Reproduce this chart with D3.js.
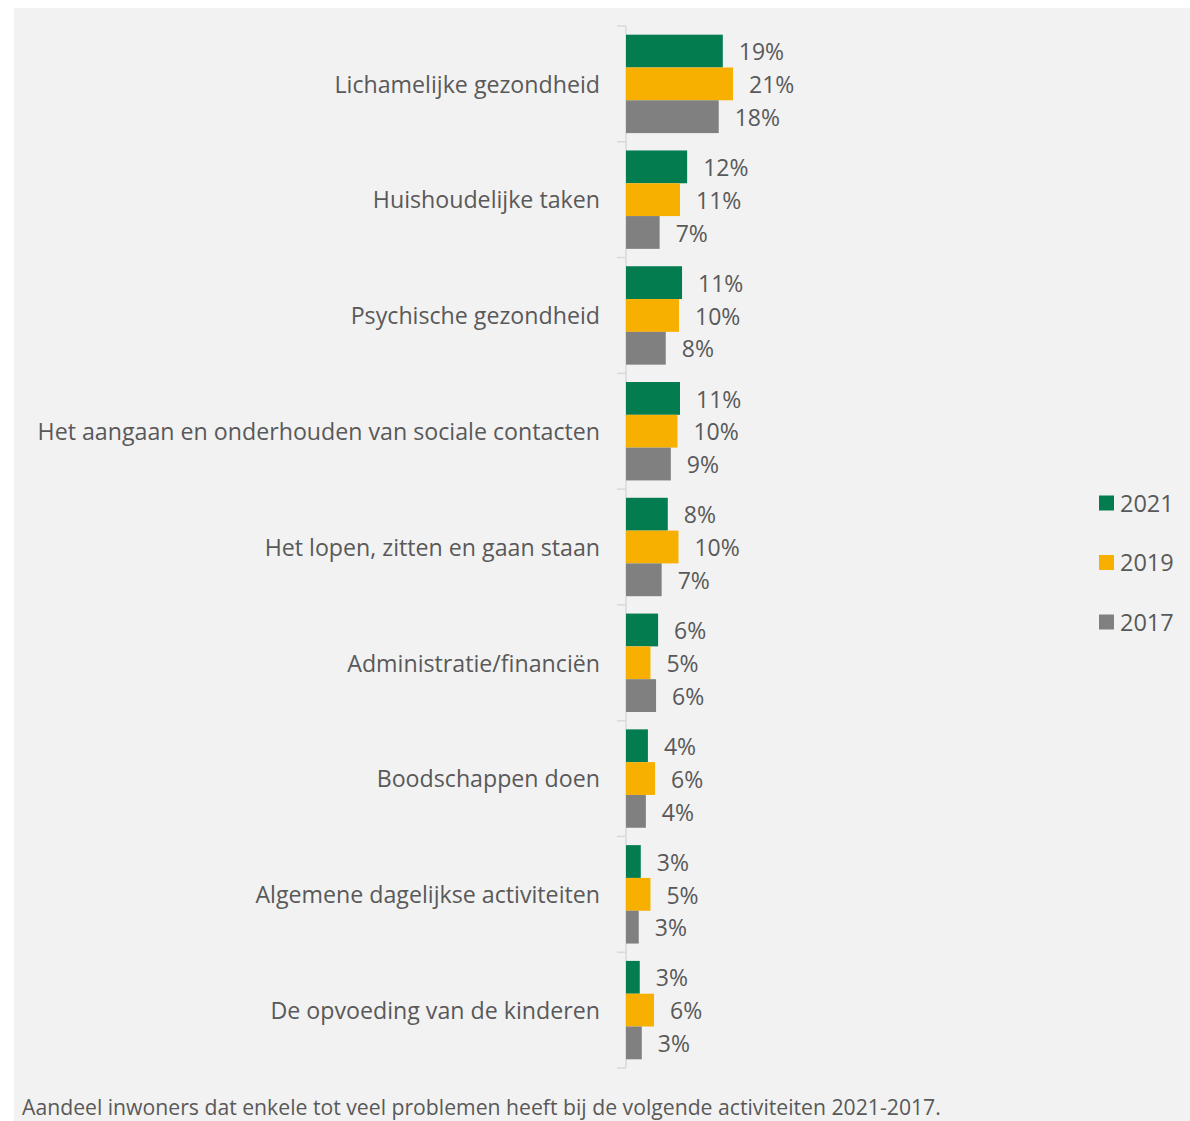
<!DOCTYPE html>
<html>
<head>
<meta charset="utf-8">
<script src="https://cdn.jsdelivr.net/npm/d3@7"></script>
<style>
  body { margin: 0; background: #ffffff; }
  svg text { font-family: "Open Sans", "Noto Sans", sans-serif; fill: #595959; }
</style>
</head>
<body>
<div id="chart"></div>
<script>
// categories, top to bottom
var categories = [
    "Lichamelijke gezondheid",
    "Huishoudelijke taken",
    "Psychische gezondheid",
    "Het aangaan en onderhouden van sociale contacten",
    "Het lopen, zitten en gaan staan",
    "Administratie/financiën",
    "Boodschappen doen",
    "Algemene dagelijkse activiteiten",
    "De opvoeding van de kinderen"
];

var years = ["2021", "2019", "2017"];
var yearColors = ["#037d50", "#f8b000", "#808080"];

// percentages per year
var values2021 = [19.0, 12.0, 11.0, 10.6, 8.2, 6.3, 4.3, 2.9, 2.7];
var values2019 = [21.0, 10.6, 10.4, 10.1, 10.3, 4.8, 5.7, 4.8, 5.5];
var values2017 = [18.2, 6.6, 7.8, 8.8, 7.0, 5.9, 3.9, 2.5, 3.1];

var caption = "Aandeel inwoners dat enkele tot veel problemen heeft bij de volgende activiteiten 2021-2017.";

var width = 1190, height = 1121;

var svg = d3.select("#chart").append("svg")
    .attr("width", width)
    .attr("height", height);

// grey panel
svg.append("rect")
    .attr("x", 14).attr("y", 8)
    .attr("width", width - 14).attr("height", height - 8)
    .attr("fill", "#f2f2f2");

var axisX = 626;

var y = d3.scaleBand()
    .domain(categories)
    .range([26, 1068])
    .paddingInner(0.15)
    .paddingOuter(0.075);

var yInner = d3.scaleBand()
    .domain(years)
    .range([0, y.bandwidth()]);

var x = d3.scaleLinear()
    .domain([0, 21])
    .range([axisX, axisX + 107]);

var rows = categories.map(function(c, i){
    return {cat: c, vals: [values2021[i], values2019[i], values2017[i]]};
});

// axis line with tick marks between the groups
var ticks = d3.range(categories.length + 1).map(function(i){ return 26 + i * (1068 - 26) / categories.length; });

svg.append("line")
    .attr("x1", axisX).attr("x2", axisX)
    .attr("y1", 26).attr("y2", 1068)
    .attr("stroke", "#d9d9d9").attr("stroke-width", 1.5);

svg.selectAll(".tick").data(ticks).enter().append("line")
    .attr("class", "tick")
    .attr("x1", axisX - 9).attr("x2", axisX)
    .attr("y1", function(d){ return d; })
    .attr("y2", function(d){ return d; })
    .attr("stroke", "#d9d9d9").attr("stroke-width", 1.5);

var groups = svg.selectAll(".grp").data(rows).enter().append("g")
    .attr("class", "grp")
    .attr("transform", function(d){ return "translate(0," + y(d.cat) + ")"; });

groups.selectAll("rect").data(function(d){
        return d.vals.map(function(v, j){ return {v: v, year: years[j], color: yearColors[j]}; });
    }).enter().append("rect")
    .attr("x", axisX)
    .attr("y", function(d){ return yInner(d.year); })
    .attr("width", function(d){ return x(d.v) - axisX; })
    .attr("height", yInner.bandwidth())
    .attr("fill", function(d){ return d.color; });

groups.selectAll(".val").data(function(d){
        return d.vals.map(function(v, j){ return {v: v, year: years[j]}; });
    }).enter().append("text")
    .attr("class", "val")
    .attr("x", function(d){ return x(d.v) + 16; })
    .attr("y", function(d){ return yInner(d.year) + yInner.bandwidth() / 2; })
    .attr("dy", "0.4em")
    .style("font-size", "23px")
    .text(function(d){ return Math.round(d.v) + "%"; });

// category labels
svg.selectAll(".cat").data(categories).enter().append("text")
    .attr("class", "cat")
    .attr("x", 600)
    .attr("y", function(d){ return y(d) + y.bandwidth() / 2; })
    .attr("dy", "0.38em")
    .attr("text-anchor", "end")
    .style("font-size", "23.2px")
    .text(function(d){ return d; });

// legend
var legend = svg.selectAll(".leg").data(years).enter().append("g")
    .attr("class", "leg")
    .attr("transform", function(d, i){ return "translate(1099," + (503 + i * 59.5) + ")"; });

legend.append("rect")
    .attr("x", 0).attr("y", -7.5)
    .attr("width", 15).attr("height", 15)
    .attr("fill", function(d, i){ return yearColors[i]; });

legend.append("text")
    .attr("x", 21).attr("y", 0)
    .attr("dy", "0.37em")
    .style("font-size", "23.5px")
    .text(function(d){ return d; });

svg.append("text")
    .attr("x", 22).attr("y", 1115)
    .style("font-size", "21.2px")
    .text(caption);
</script>
</body>
</html>
